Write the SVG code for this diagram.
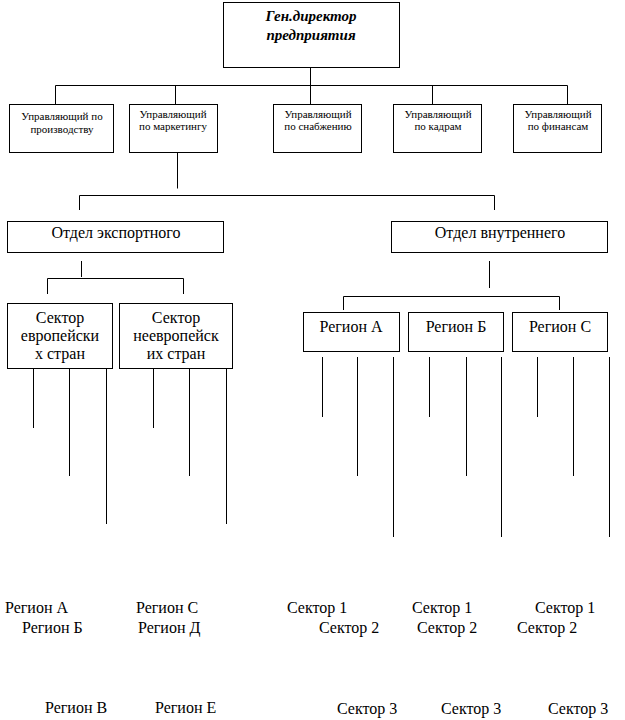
<svg xmlns="http://www.w3.org/2000/svg" width="625" height="720" viewBox="0 0 625 720" font-family="Liberation Serif, Tinos, DejaVu Serif, serif">
<style>
.box{fill:#fff;stroke:#000;stroke-width:1}
.ln{stroke:#000;stroke-width:1;fill:none}
text{fill:#000}
.t16{font-size:16px}
.t11{font-size:11px;text-anchor:middle}
.c16{font-size:16px;text-anchor:middle}
.hd{font-size:15px;font-weight:bold;font-style:italic;text-anchor:middle}
</style>
<rect x="0" y="0" width="625" height="720" fill="#fff"/>
<g id="connectors" class="ln">
<path d="M310.5 67.5V104.5M55.5 85.5H567.5M55.5 85.5V104.5M175.5 85.5V104.5M432.5 85.5V104.5M567.5 85.5V104.5"/>
<path d="M177.5 152.5V188.5M79.5 195.5H494.5M79.5 195.5V210M494.5 195.5V210"/>
<path d="M81.5 261V277M47.5 278.5H183.5M47.5 278.5V294M183.5 278.5V294"/>
<path d="M33.5 368.5V428M69.5 368.5V476M106.5 368.5V524M153.5 368.5V428M189.5 368.5V476M226.5 368.5V524"/>
<path d="M489.5 261V288M343.5 296.5H559.5M343.5 296.5V310M559.5 296.5V310"/>
<path d="M322.5 357V417M357.5 357V476M393.5 357V537M429.5 357V417M466.5 357V476M501.5 357V537M537.5 357V417M573.5 357V476M609.5 357V537"/>
</g>
<g id="gendir"><rect class="box" x="223.5" y="2.5" width="176" height="65"/><text class="hd" x="311" y="21">Ген.директор</text><text class="hd" x="311" y="40">предприятия</text></g>
<g id="m1"><rect class="box" x="9.5" y="104.5" width="104" height="48"/><text class="t11" x="62" y="120">Управляющий по</text><text class="t11" x="62" y="133">производству</text></g>
<g id="m2"><rect class="box" x="129.5" y="104.5" width="88" height="48"/><text class="t11" x="173" y="118">Управляющий</text><text class="t11" x="173" y="130">по маркетингу</text></g>
<g id="m3"><rect class="box" x="273.5" y="104.5" width="88" height="48"/><text class="t11" x="318" y="118">Управляющий</text><text class="t11" x="318" y="130">по снабжению</text></g>
<g id="m4"><rect class="box" x="393.5" y="104.5" width="88" height="48"/><text class="t11" x="438" y="118">Управляющий</text><text class="t11" x="438" y="130">по кадрам</text></g>
<g id="m5"><rect class="box" x="513.5" y="104.5" width="88" height="48"/><text class="t11" x="558" y="118">Управляющий</text><text class="t11" x="558" y="130">по финансам</text></g>
<g id="export"><rect class="box" x="7.5" y="221.5" width="216" height="31"/><text class="c16" x="116" y="238">Отдел экспортного</text></g>
<g id="internal"><rect class="box" x="391.5" y="221.5" width="216" height="31"/><text class="c16" x="500" y="238">Отдел внутреннего</text></g>
<g id="sec-eu"><rect class="box" x="7.5" y="303.5" width="105" height="65"/><text class="c16" x="60" y="323">Сектор</text><text class="c16" x="60" y="341">европейски</text><text class="c16" x="60" y="359">х стран</text></g>
<g id="sec-noneu"><rect class="box" x="119.5" y="303.5" width="113" height="65"/><text class="c16" x="176" y="323">Сектор</text><text class="c16" x="176" y="341">неевропейск</text><text class="c16" x="176" y="359">их стран</text></g>
<g id="regA"><rect class="box" x="303.5" y="312.5" width="96" height="39"/><text class="c16" x="351" y="332">Регион А</text></g>
<g id="regB"><rect class="box" x="408.5" y="312.5" width="95" height="39"/><text class="c16" x="456" y="332">Регион Б</text></g>
<g id="regC"><rect class="box" x="512.5" y="312.5" width="95" height="39"/><text class="c16" x="560" y="332">Регион С</text></g>
<g id="labels">
<text class="t16" x="5" y="613">Регион А</text>
<text class="t16" x="22" y="633">Регион Б</text>
<text class="t16" x="45" y="713">Регион В</text>
<text class="t16" x="136" y="613">Регион С</text>
<text class="t16" x="138" y="633">Регион Д</text>
<text class="t16" x="155" y="713">Регион Е</text>
<text class="t16" x="287" y="613">Сектор 1</text>
<text class="t16" x="319" y="633">Сектор 2</text>
<text class="t16" x="337" y="714">Сектор 3</text>
<text class="t16" x="412" y="613">Сектор 1</text>
<text class="t16" x="417" y="633">Сектор 2</text>
<text class="t16" x="441" y="714">Сектор 3</text>
<text class="t16" x="535" y="613">Сектор 1</text>
<text class="t16" x="517" y="633">Сектор 2</text>
<text class="t16" x="548" y="714">Сектор 3</text>
</g>
</svg>
